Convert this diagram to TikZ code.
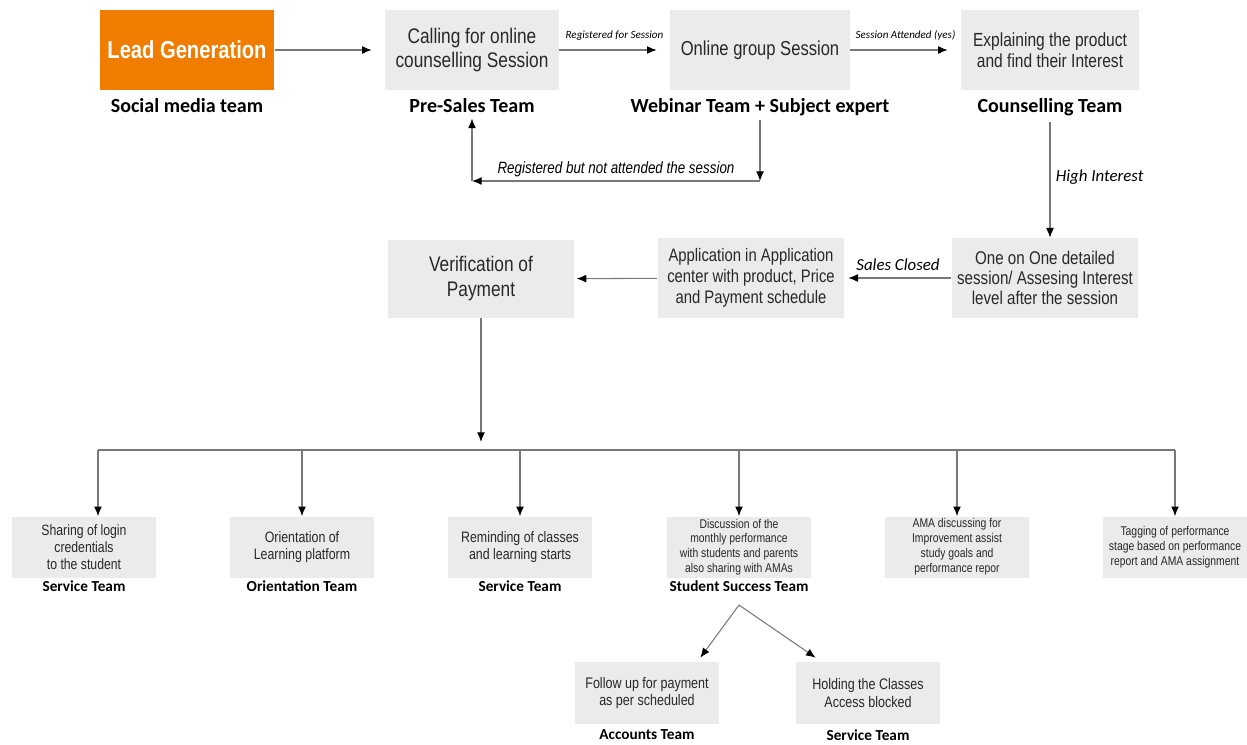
\documentclass[tikz,border=0pt]{standalone}
\usepackage{fontspec}
\setmainfont{Liberation Sans}
\newfontfamily\narrowsf[FakeStretch=0.82]{Liberation Sans}
\newfontfamily\calibrisf{Carlito}
\usetikzlibrary{arrows.meta, positioning, calc}
\definecolor{leadorange}{RGB}{240, 124, 0}
\definecolor{boxgray}{RGB}{235, 235, 235}
\definecolor{linegray}{RGB}{120, 120, 120}
\definecolor{textgray}{RGB}{40, 40, 40}

\tikzset{
  stage/.style={fill=boxgray, text=textgray, align=center, inner sep=1pt,
    minimum width=3.74cm, minimum height=1.6cm},
  lowstage/.style={stage, minimum width=2.88cm, minimum height=1.22cm},
  team/.style={font=\calibrisf\bfseries\fontsize{11.4}{13}\selectfont, inner sep=0pt},
  smallteam/.style={font=\calibrisf\bfseries\fontsize{8.7}{10}\selectfont, inner sep=0pt},
  flow/.style={draw=linegray, line width=0.6pt,
    -{Latex[length=5.5pt, width=4.5pt, color=black]}},
  busline/.style={draw=linegray, line width=0.6pt},
  tinytag/.style={font=\calibrisf\itshape\fontsize{6.3}{7}\selectfont, inner sep=1pt},
  tag/.style={font=\calibrisf\itshape\fontsize{9.6}{11}\selectfont, inner sep=2pt}
}

\begin{document}
\begin{tikzpicture}[x=0.02cm, y=-0.02cm]
\useasboundingbox (0,0) rectangle (1247,744);

% top row
\node[stage, fill=leadorange, text=white, minimum width=3.5cm,
  font=\narrowsf\bfseries\fontsize{14}{16}\selectfont] (lead) at (187,50) {Lead Generation};
\node[stage, minimum width=3.48cm, font=\narrowsf\fontsize{12}{13.6}\selectfont]
  (calling) at (472,50) {Calling for online\\counselling Session};
\node[stage, minimum width=3.6cm, font=\narrowsf\fontsize{11.5}{13}\selectfont]
  (online) at (760,50) {Online group Session};
\node[stage, minimum width=3.56cm, font=\narrowsf\fontsize{10.8}{11.9}\selectfont]
  (explain) at (1050,50) {Explaining the product\\and find their Interest};

\node[team, below=0.16cm of lead] (leadT) {Social media team};
\node[team, below=0.16cm of calling] (preT) {Pre-Sales Team};
\node[team, below=0.16cm of online] (webT) {Webinar Team + Subject expert};
\node[team, below=0.16cm of explain] (counsT) {Counselling Team};

% middle row
\node[stage, font=\narrowsf\fontsize{10.5}{11.6}\selectfont]
  (oneone) at (1045,278) {One on One detailed\\session/ Assesing Interest\\level after the session};
\node[stage, font=\narrowsf\fontsize{10.3}{11.9}\selectfont]
  (appl) at (751,278) {Application in Application\\center with product, Price\\and Payment schedule};
\node[stage, minimum height=1.56cm, font=\narrowsf\fontsize{12}{14.2}\selectfont]
  (verif) at (481,279) {Verification of\\Payment};

% bottom row
\node[lowstage, font=\narrowsf\fontsize{8.5}{9.6}\selectfont]
  (s1) at (84,547) {Sharing of login\\credentials\\to the student};
\node[lowstage, font=\narrowsf\fontsize{8.6}{10}\selectfont]
  (s2) at (302,547) {Orientation of\\Learning platform};
\node[lowstage, font=\narrowsf\fontsize{8.6}{10}\selectfont]
  (s3) at (520,547) {Reminding of classes\\and learning starts};
\node[lowstage, font=\narrowsf\fontsize{7.2}{8.4}\selectfont]
  (s4) at (739,547) {Discussion of the\\monthly performance\\with students and parents\\also sharing with AMAs};
\node[lowstage, font=\narrowsf\fontsize{7.2}{8.6}\selectfont]
  (s5) at (957,547) {AMA discussing for\\Improvement assist\\study goals and\\performance repor};
\node[lowstage, font=\narrowsf\fontsize{7.2}{8.5}\selectfont]
  (s6) at (1175,547) {Tagging of performance\\stage based on performance\\report and AMA assignment};

\node[smallteam, below=0.06cm of s1] (s1T) {Service Team};
\node[smallteam, below=0.06cm of s2] (s2T) {Orientation Team};
\node[smallteam, below=0.06cm of s3] (s3T) {Service Team};
\node[smallteam, below=0.06cm of s4] (s4T) {Student Success Team};

\node[lowstage, minimum height=1.24cm, font=\narrowsf\fontsize{8.7}{9.8}\selectfont]
  (follow) at (647,693) {Follow up for payment\\as per scheduled};
\node[lowstage, minimum height=1.24cm, font=\narrowsf\fontsize{8.7}{9.8}\selectfont]
  (hold) at (868,693) {Holding the Classes\\Access blocked};
\node[smallteam, below=0.1cm of follow] (followT) {Accounts Team};
\node[smallteam, below=0.1cm of hold] (holdT) {Service Team};

% connectors
\draw[flow, shorten >=0.26cm] (lead) -- (calling);
\draw[flow, shorten >=0.26cm] (calling) -- node[tinytag, above=4pt] {Registered for Session} (online);
\draw[flow, shorten >=0.26cm] (online) -- node[tinytag, above=4pt] {Session Attended (yes)} (explain);

\coordinate (fbR) at (webT.south |- 0,181);
\coordinate (fbL) at (preT.south |- 0,181);
\draw[flow, shorten <=2pt] (webT.south) -- (fbR);
\draw[flow] (fbR) -- node[above=1pt, inner sep=1pt, font=\narrowsf\itshape\fontsize{9.3}{11}\selectfont]
  {Registered but not attended the session} (fbL);
\draw[flow, shorten >=3pt] (fbL) -- (preT.south);

\draw[flow, shorten <=3pt] (counsT.south) -- node[tag, right=1pt] {High Interest} (counsT.south |- oneone.north);
\draw[flow, shorten >=2pt] (oneone) -- node[tag, above=2pt] {Sales Closed} (appl);
\draw[flow, shorten >=1pt] (appl) -- (verif);

\coordinate (hub) at (verif.south |- 0,442);
\coordinate (bus) at (verif.south |- 0,450);
\draw[flow] (verif.south) -- (hub);

\coordinate (in1) at ($(s1.north)+(14,0)$);
\foreach \k in {2,...,6} \coordinate (in\k) at (s\k.north);
\draw[busline] (in1 |- bus) -- (in6 |- bus);
\foreach \k in {1,...,6} \draw[flow] (in\k |- bus) -- (in\k);

\coordinate (fork) at (739,605);
\draw[flow] (fork) -- ($(follow.north east)+(-19,-4)$);
\draw[flow] (fork) -- ($(hold.north west)+(20,-4)$);
\end{tikzpicture}
\end{document}
